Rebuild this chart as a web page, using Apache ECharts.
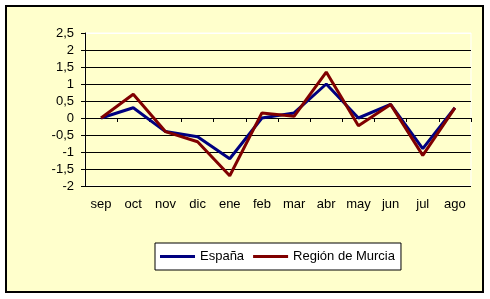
<!DOCTYPE html>
<html>
<head>
<meta charset="utf-8">
<script src="https://cdn.jsdelivr.net/npm/echarts@6/dist/echarts.min.js"></script>
<style>
  html, body { margin: 0; padding: 0; background: #fff; }
  #chart { width: 490px; height: 299px; }
</style>
</head>
<body>
<div id="chart"></div>
<script>
const months = ["sep", "oct", "nov", "dic", "ene", "feb", "mar", "abr", "may", "jun", "jul", "ago"];
const espana = [0, 0.3, -0.4, -0.55, -1.2, 0, 0.15, 1.0, 0, 0.4, -0.9, 0.3];
const murcia = [0, 0.7, -0.4, -0.7, -1.7, 0.15, 0.05, 1.35, -0.23, 0.4, -1.1, 0.3];

const myChart = echarts.init(document.getElementById("chart"));

// 9 black grid lines, the top one (2,5) is white like the original
const splitColors = ["#000", "#000", "#000", "#000", "#000", "#000", "#000", "#000", "#000", "#fff"];

const option = {
  animation: false,
  textStyle: { fontFamily: "Liberation Sans, Arial, sans-serif" },
  graphic: [
    {
      type: "rect",
      z: -10,
      shape: { x: 6, y: 6, width: 477, height: 286 },
      style: { fill: "#FFFFCC", stroke: "#000", lineWidth: 2 },
    },
  ],
  grid: {
    left: 85,
    right: 19,
    top: 33,
    bottom: 113,
    show: true,
    borderColor: "#fff",
    borderWidth: 1,
  },
  legend: {
    data: ["España", "Región de Murcia"],
    left: 155,
    top: 243,
    padding: [7, 6, 7, 5],
    itemGap: 9,
    itemWidth: 35,
    itemHeight: 3,
    icon: "rect",
    backgroundColor: "#fff",
    borderColor: "#000",
    borderWidth: 1,
    textStyle: { color: "#000", fontSize: 13 },
  },
  xAxis: {
    type: "category",
    data: months,
    boundaryGap: true,
    axisLine: { lineStyle: { color: "#000", width: 1 } },
    axisTick: { show: true, interval: 0, length: 4, lineStyle: { color: "#000" } },
    axisLabel: { color: "#000", fontSize: 13, margin: 12, interval: 0 },
  },
  yAxis: {
    type: "value",
    min: -2,
    max: 2.5,
    interval: 0.5,
    axisLine: { show: true, lineStyle: { color: "#000", width: 1 } },
    axisTick: { show: true, length: 4, lineStyle: { color: "#000" } },
    axisLabel: {
      color: "#000",
      fontSize: 13,
      margin: 11,
      formatter: (v) => String(v).replace(".", ","),
    },
    splitLine: { show: true, lineStyle: { color: splitColors, width: 1 } },
  },
  series: [
    {
      name: "España",
      type: "line",
      data: espana,
      showSymbol: false,
      color: "#000080",
      lineStyle: { color: "#000080", width: 3 },
    },
    {
      name: "Región de Murcia",
      type: "line",
      data: murcia,
      showSymbol: false,
      color: "#800000",
      lineStyle: { color: "#800000", width: 3 },
    },
  ],
};

myChart.setOption(option);
</script>
</body>
</html>
